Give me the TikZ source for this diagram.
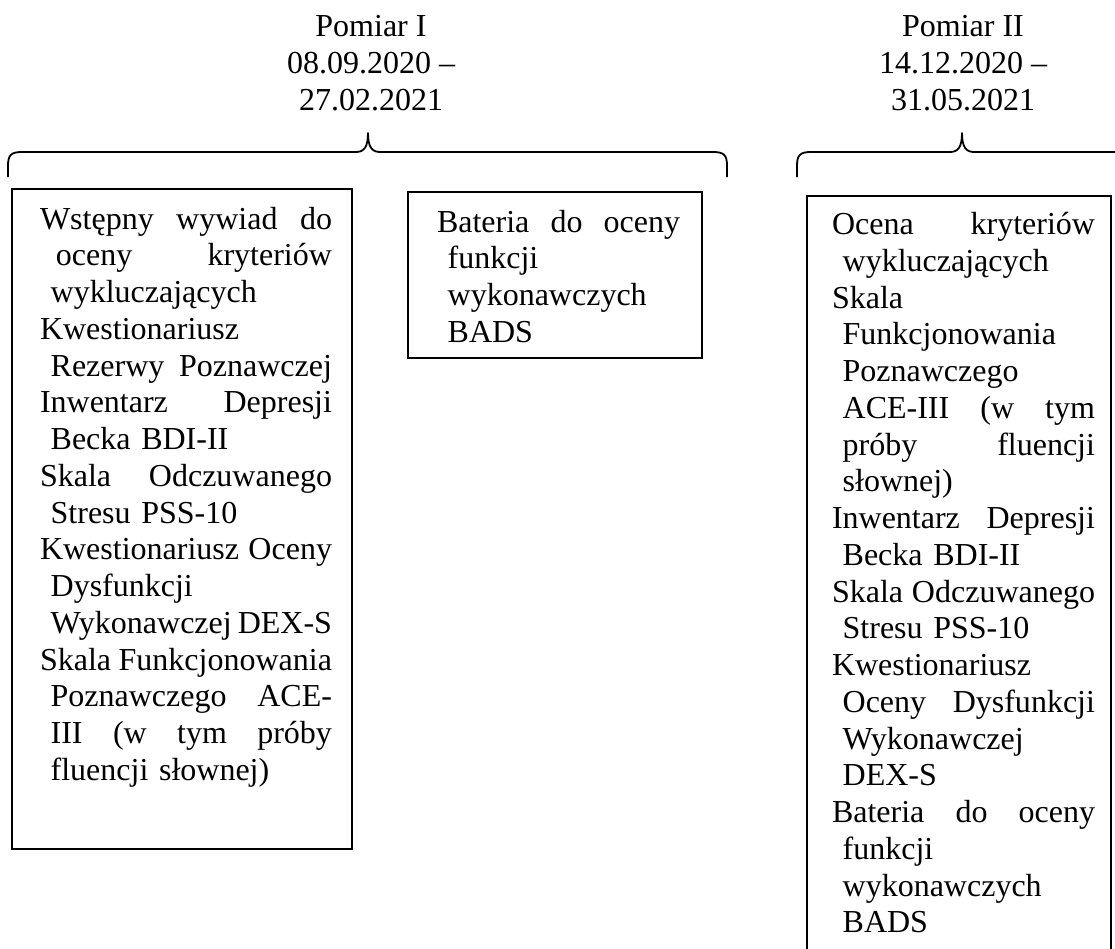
\documentclass[tikz,border=0pt]{standalone}
\usepackage{fontspec}
\setmainfont{Liberation Serif}
\setlength{\parindent}{0pt}
% one justified line (gaps marked with \hfill) and one flush-left line of a list box
\newcommand{\jline}[1]{\leavevmode\hbox to \linewidth{\strut#1}}
\newcommand{\lline}[1]{\leavevmode\hbox to \linewidth{\strut#1\hfil}}
\begin{document}
\begin{tikzpicture}[x=1pt,y=-1pt,
  every node/.style={inner sep=0pt, outer sep=0pt},
  txt/.style={font=\fontsize{32}{36.75}\selectfont, align=left, anchor=north west},
  head/.style={font=\fontsize{32}{36.75}\selectfont, align=center, anchor=north},
  panel/.style={draw, line width=2pt, rectangle, anchor=north west},
  brace/.style={draw, line width=1.8pt, line join=round}]
\fill[white] (0,0) rectangle (1115,948);
\useasboundingbox (0,0) rectangle (1115,948);
\clip (0,0) rectangle (1115,948);

% headings
\node[head] (h1) at (371,10.8) {\strut Pomiar I\\08.09.2020 –\\27.02.2021};
\node[head] (h2) at (963,10.8) {\strut Pomiar II\\14.12.2020 –\\31.05.2021};

% curly braces under the headings
\draw[brace] (8,177) -- (8,166) .. controls (8,155) and (11,152) .. (22,152)
  -- (356,152) .. controls (364,152) and (368,147) .. (368,133)
  .. controls (368,147) and (372,152) .. (380,152)
  -- (713,152) .. controls (724,152) and (727,155) .. (727,166) -- (727,177);
\draw[brace] (797,177) -- (797,166) .. controls (797,155) and (800,152) .. (811,152)
  -- (950,152) .. controls (958,152) and (962,147) .. (962,133)
  .. controls (962,147) and (966,152) .. (974,152) -- (1130,152);

% boxes
\node[panel, minimum width=340pt, minimum height=660pt] (b1) at (12,189) {};
\node[panel, minimum width=294pt, minimum height=166pt] (b2) at (408,192) {};
\node[panel, minimum width=304pt, minimum height=800pt] (b3) at (807,196) {};

% box contents
\node[txt, text width=292pt] (t1) at (40,203.3) {%
\jline{Wstępny\hfill wywiad\hfill do}\\
\jline{\ \,oceny\hfill kryteriów}\\
\lline{\ wykluczających}\\
\lline{Kwestionariusz}\\
\jline{\ Rezerwy\hfill Poznawczej}\\
\jline{Inwentarz\hfill Depresji}\\
\lline{\ Becka BDI-II}\\
\jline{Skala\hfill Odczuwanego}\\
\lline{\ Stresu PSS-10}\\
\jline{Kwestionariusz\hfill Oceny}\\
\lline{\ Dysfunkcji}\\
\jline{\ Wykonawczej\hfill DEX-S}\\
\jline{Skala\hfill Funkcjonowania}\\
\jline{\ Poznawczego\hfill ACE-}\\
\jline{\ III\hfill (w\hfill tym\hfill próby}\\
\lline{\ fluencji słownej)}};

\node[txt, text width=243pt] (t2) at (437,206.3) {%
\jline{Bateria\hfill do\hfill oceny}\\
\lline{\ funkcji}\\
\lline{\ wykonawczych}\\
\lline{\ BADS}};

\node[txt, text width=263pt] (t3) at (832,208.8) {%
\jline{Ocena\hfill kryteriów}\\
\lline{\ wykluczających}\\
\lline{Skala}\\
\lline{\ Funkcjonowania}\\
\lline{\ Poznawczego}\\
\jline{\ ACE-III\hfill (w\hfill tym}\\
\jline{\ próby\hfill fluencji}\\
\lline{\ słownej)}\\
\jline{Inwentarz\hfill Depresji}\\
\lline{\ Becka BDI-II}\\
\jline{Skala\hfill Odczuwanego}\\
\lline{\ Stresu PSS-10}\\
\lline{Kwestionariusz}\\
\jline{\ Oceny\hfill Dysfunkcji}\\
\lline{\ Wykonawczej}\\
\lline{\ DEX-S}\\
\jline{Bateria\hfill do\hfill oceny}\\
\lline{\ funkcji}\\
\lline{\ wykonawczych}\\
\lline{\ BADS}};
\end{tikzpicture}
\end{document}
